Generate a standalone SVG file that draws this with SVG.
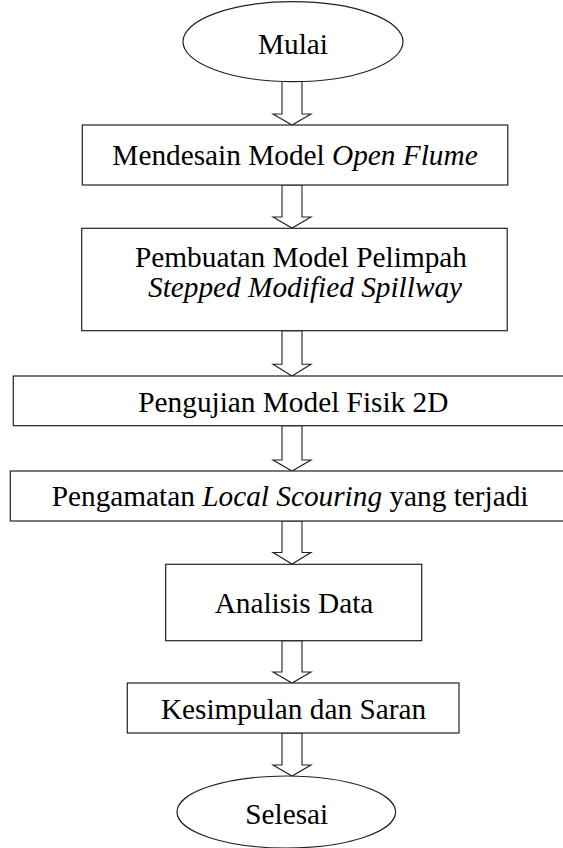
<svg xmlns="http://www.w3.org/2000/svg" width="563" height="848" viewBox="0 0 563 848">
<style>
.n{fill:#fff;stroke:#222;stroke-width:1.2}
.a{fill:#fff;stroke:#222;stroke-width:1.1;stroke-linejoin:miter}
text{font-family:"Liberation Serif","Times New Roman",serif;font-size:29.3px;fill:#000}
.c{text-anchor:middle}
.i{font-style:italic}
</style>
<rect width="563" height="848" fill="#fff"/>
<g id="connectors">
<polygon class="a" points="282,81.5 302,81.5 302,114 311,114 292,125 273,114 282,114"/>
<polygon class="a" points="282,185 302,185 302,217 311,217 292,228 273,217 282,217"/>
<polygon class="a" points="282,330.7 302,330.7 302,364.3 311,364.3 292,376 273,364.3 282,364.3"/>
<polygon class="a" points="282,425.7 302,425.7 302,460 311,460 292,471 273,460 282,460"/>
<polygon class="a" points="282,521 302,521 302,552.5 311,552.5 292,564 273,552.5 282,552.5"/>
<polygon class="a" points="282,640.7 302,640.7 302,672 311,672 292,683 273,672 282,672"/>
<polygon class="a" points="282,733 302,733 302,765 311,765 292,776 273,765 282,765"/>
</g>
<g id="mulai">
<ellipse class="n" cx="293" cy="41.7" rx="110" ry="40"/>
<text class="c" x="293" y="53.5">Mulai</text>
</g>
<g id="mendesain">
<rect class="n" x="82.3" y="125" width="425.5" height="60"/>
<text class="c" x="295" y="165">Mendesain Model <tspan class="i">Open Flume</tspan></text>
</g>
<g id="pembuatan">
<rect class="n" x="81.7" y="228.3" width="425.5" height="102.4"/>
<text x="135" y="267">Pembuatan Model Pelimpah</text>
<text class="i" x="148" y="297">Stepped Modified Spillway</text>
</g>
<g id="pengujian">
<rect class="n" x="13.3" y="376" width="560" height="49.7"/>
<text x="138.3" y="411.7">Pengujian Model Fisik 2D</text>
</g>
<g id="pengamatan">
<rect class="n" x="10.3" y="471" width="560" height="50"/>
<text x="51.7" y="506">Pengamatan <tspan class="i">Local Scouring</tspan> yang terjadi</text>
</g>
<g id="analisis">
<rect class="n" x="165.7" y="564.3" width="256" height="76.4"/>
<text class="c" x="294" y="612.7">Analisis Data</text>
</g>
<g id="kesimpulan">
<rect class="n" x="127.3" y="683" width="331.7" height="50"/>
<text class="c" x="293.5" y="719">Kesimpulan dan Saran</text>
</g>
<g id="selesai">
<ellipse class="n" cx="286.3" cy="812" rx="109.3" ry="36"/>
<text class="c" x="286.7" y="824">Selesai</text>
</g>
</svg>
